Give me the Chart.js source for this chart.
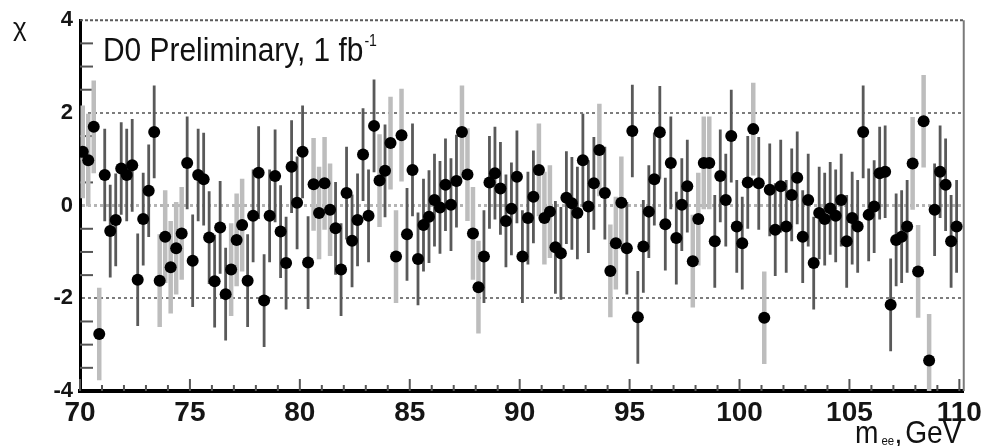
<!DOCTYPE html>
<html>
<head>
<meta charset="utf-8">
<script src="https://cdn.jsdelivr.net/npm/chart.js@4.4.1/dist/chart.umd.min.js"></script>
<style>
    html, body { margin: 0; padding: 0; background: #fff; }
</style>
</head>
<body>
<canvas id="chiChart" width="987" height="446"></canvas>
<script>
// bin centres (GeV), 0.25 GeV bins
const massBins = [
    70.125, 70.375, 70.625, 70.875, 71.125, 71.375, 71.625, 71.875, 72.125, 72.375, 72.625, 72.875,
    73.125, 73.375, 73.625, 73.875, 74.125, 74.375, 74.625, 74.875, 75.125, 75.375, 75.625, 75.875,
    76.125, 76.375, 76.625, 76.875, 77.125, 77.375, 77.625, 77.875, 78.125, 78.375, 78.625, 78.875,
    79.125, 79.375, 79.625, 79.875, 80.125, 80.375, 80.625, 80.875, 81.125, 81.375, 81.625, 81.875,
    82.125, 82.375, 82.625, 82.875, 83.125, 83.375, 83.625, 83.875, 84.125, 84.375, 84.625, 84.875,
    85.125, 85.375, 85.625, 85.875, 86.125, 86.375, 86.625, 86.875, 87.125, 87.375, 87.625, 87.875,
    88.125, 88.375, 88.625, 88.875, 89.125, 89.375, 89.625, 89.875, 90.125, 90.375, 90.625, 90.875,
    91.125, 91.375, 91.625, 91.875, 92.125, 92.375, 92.625, 92.875, 93.125, 93.375, 93.625, 93.875,
    94.125, 94.375, 94.625, 94.875, 95.125, 95.375, 95.625, 95.875, 96.125, 96.375, 96.625, 96.875,
    97.125, 97.375, 97.625, 97.875, 98.125, 98.375, 98.625, 98.875, 99.125, 99.375, 99.625, 99.875,
    100.125, 100.375, 100.625, 100.875, 101.125, 101.375, 101.625, 101.875, 102.125, 102.375, 102.625, 102.875,
    103.125, 103.375, 103.625, 103.875, 104.125, 104.375, 104.625, 104.875, 105.125, 105.375, 105.625, 105.875,
    106.125, 106.375, 106.625, 106.875, 107.125, 107.375, 107.625, 107.875, 108.125, 108.375, 108.625, 108.875,
    109.125, 109.375, 109.625, 109.875
];

const chiValues = [
    1.16, 0.98, 1.70, -2.77, 0.66, -0.55, -0.31, 0.80, 0.66, 0.87, -1.60, -0.29,
    0.32, 1.59, -1.62, -0.67, -1.33, -0.92, -0.60, 0.92, -1.19, 0.66, 0.57, -0.69,
    -1.63, -0.47, -1.91, -1.38, -0.74, -0.42, -1.62, -0.22, 0.71, -2.05, -0.22, 0.64,
    -0.56, -1.24, 0.84, 0.06, 1.16, -1.23, 0.46, -0.16, 0.48, -0.09, -0.49, -1.38,
    0.27, -0.76, -0.31, 1.10, -0.22, 1.72, 0.54, 0.75, 1.35, -1.10, 1.52, -0.62,
    0.77, -1.15, -0.42, -0.24, 0.12, -0.04, 0.45, 0.02, 0.53, 1.59, 0.67, -0.60,
    -1.76, -1.10, 0.50, 0.70, 0.37, -0.33, -0.07, 0.62, -1.10, -0.27, 0.19, 0.77,
    -0.27, -0.13, -0.90, -1.03, 0.17, 0.05, -0.16, 0.98, -0.02, 0.48, 1.20, 0.27,
    -1.41, -0.81, 0.06, -0.92, 1.61, -2.41, -0.88, -0.13, 0.57, 1.58, -0.40, 0.92,
    -0.70, 0.02, 0.42, -1.20, -0.29, 0.92, 0.92, -0.77, 0.64, 0.12, 1.50, -0.45,
    -0.81, 0.50, 1.65, 0.48, -2.42, 0.34, -0.52, 0.42, -0.45, 0.23, 0.60, -0.67,
    0.12, -1.24, -0.16, -0.29, -0.06, -0.22, 0.12, -0.77, -0.27, -0.45, 1.59, -0.20,
    -0.02, 0.70, 0.73, -2.14, -0.74, -0.67, -0.45, 0.91, -1.42, 1.82, -3.34, -0.09,
    0.73, 0.45, -0.77, -0.45
];

// error bar shade per bin, one group per GeV: d = dark, l = light grey
const barShade = 'llll dddd dddd ddll llld dddd dddl lldd dddd dddd ddll lldd dddd ddld llld dddd dddd dlll lddd dddd ' +
                 'dddl lldd dddd ddld llld dddd dddd dddl llld dddd ddld lddd dddd dddd dddd dddd dddd dddl llld dddd';
const chiError = 1.0;

const xMajorTicks = [70, 75, 80, 85, 90, 95, 100, 105, 110];
const xTickLabels = ['70', '75', '80', '85', '90', '95', '100', '105', '110'];
const xMinorTicks = [71, 72, 73, 74, 76, 77, 78, 79, 81, 82, 83, 84, 86, 87, 88, 89, 91, 92, 93, 94,
                     96, 97, 98, 99, 101, 102, 103, 104, 106, 107, 108, 109];
const yMajorTicks = [-4, -2, 0, 2, 4];
const yTickLabels = ['-4', '-2', '0', '2', '4'];
const yMinorTicks = [-3.5, -3, -2.5, -1.5, -1, -0.5, 0.5, 1, 1.5, 2.5, 3, 3.5];

const shades = barShade.replace(/ /g, '');
const FONT = '"Liberation Sans Narrow", "Liberation Sans", Arial, sans-serif';

const errorBarPlugin = {
    id: 'errorBars',
    beforeDatasetsDraw(chart) {
        const { ctx, chartArea: a, scales: { x, y } } = chart;
        ctx.save();
        ctx.beginPath();
        ctx.rect(a.left, a.top, a.right - a.left, a.bottom - a.top);
        ctx.clip();
        // light bars first, dark ones on top
        ['l', 'd'].forEach(s => {
            ctx.strokeStyle = s === 'l' ? '#bdbdbd' : '#595959';
            ctx.lineWidth = s === 'l' ? 4.5 : 2.8;
            massBins.forEach((m, i) => {
                if (shades[i] !== s) return;
                const px = x.getPixelForValue(m);
                ctx.beginPath();
                ctx.moveTo(px, y.getPixelForValue(chiValues[i] + chiError));
                ctx.lineTo(px, y.getPixelForValue(chiValues[i] - chiError));
                ctx.stroke();
            });
        });
        ctx.restore();
    }
};

const framePlugin = {
    id: 'frame',
    beforeDatasetsDraw(chart) {
        const { ctx, chartArea: a, scales: { x, y } } = chart;
        ctx.save();
        // top + right frame
        ctx.strokeStyle = '#5a5a5a';
        ctx.lineWidth = 2;
        ctx.setLineDash([3, 2]);
        ctx.beginPath(); ctx.moveTo(a.left, a.top); ctx.lineTo(a.right, a.top); ctx.stroke();
        ctx.setLineDash([]);
        ctx.strokeStyle = '#7a7a7a';
        ctx.beginPath(); ctx.moveTo(a.right, a.top); ctx.lineTo(a.right, a.bottom); ctx.stroke();

        // tick marks drawn inside the frame
        ctx.strokeStyle = '#555';
        ctx.lineWidth = 2;
        yMinorTicks.forEach(v => {
            const py = y.getPixelForValue(v);
            ctx.beginPath(); ctx.moveTo(a.left, py); ctx.lineTo(a.left + 13, py); ctx.stroke();
        });
        xMinorTicks.forEach(v => {
            const px = x.getPixelForValue(v);
            ctx.beginPath(); ctx.moveTo(px, a.bottom); ctx.lineTo(px, a.bottom - 6); ctx.stroke();
        });
        xMajorTicks.forEach(v => {
            const px = x.getPixelForValue(v);
            ctx.beginPath(); ctx.moveTo(px, a.bottom); ctx.lineTo(px, a.bottom - 12); ctx.stroke();
        });
        ctx.restore();
    },
    afterDraw(chart) {
        const { ctx } = chart;
        ctx.save();
        ctx.fillStyle = '#111';
        ctx.textBaseline = 'alphabetic';
        ctx.textAlign = 'left';

        // label inside the plot, squeezed to the narrow look of the original
        ctx.save();
        ctx.translate(103, 61);
        ctx.scale(0.88, 1);
        ctx.font = '34px ' + FONT;
        const txt = 'D0 Preliminary, 1 fb';
        ctx.fillText(txt, 0, 0);
        const w = ctx.measureText(txt).width;
        ctx.font = '16px ' + FONT;
        ctx.fillText('-1', w + 1, -15);
        ctx.restore();

        // axis titles
        ctx.font = '26px ' + FONT;
        ctx.fillText('χ', 13, 36);

        ctx.save();
        ctx.translate(855, 443);
        ctx.scale(0.88, 1);
        ctx.font = '32px ' + FONT;
        ctx.fillText('m', 0, 0);
        ctx.font = '13px ' + FONT;
        ctx.fillText('ee', 30, 2);
        ctx.font = '32px ' + FONT;
        ctx.fillText(',', 45, 0);
        ctx.fillText('GeV', 57, 0);
        ctx.restore();
        ctx.restore();
    }
};

new Chart(document.getElementById('chiChart').getContext('2d'), {
    type: 'scatter',
    data: {
        datasets: [{
            data: massBins.map((m, i) => ({ x: m, y: chiValues[i] })),
            backgroundColor: '#000',
            borderWidth: 0,
            pointRadius: 6,
            pointHoverRadius: 6
        }]
    },
    options: {
        responsive: false, animation: false,
        layout: { padding: { top: 18, right: 13, left: 0, bottom: 0 } },
        plugins: { legend: { display: false }, tooltip: { enabled: false } },
        scales: {
            x: {
                type: 'linear', min: 70, max: 110.2,
                afterBuildTicks: s => { s.ticks = xMajorTicks.map(v => ({ value: v })); },
                afterFit: s => { s.height = 55; },
                ticks: {
                    callback: (v, i) => xTickLabels[i],
                    color: '#151515', padding: 5, maxRotation: 0, autoSkip: false,
                    font: { family: FONT, size: 28, weight: 'bold' }
                },
                grid: { display: false, drawTicks: false },
                border: { color: '#000', width: 4 }
            },
            y: {
                min: -4, max: 4,
                afterBuildTicks: s => { s.ticks = yMajorTicks.map(v => ({ value: v })); },
                afterFit: s => { s.width = 80; },
                ticks: {
                    callback: (v, i) => yTickLabels[i],
                    color: '#151515', padding: 7,
                    font: { family: FONT, size: 22, weight: 'bold' }
                },
                grid: {
                    drawTicks: false,
                    color: c => (Math.abs(c.tick.value) === 4 ? 'rgba(0,0,0,0)' : (c.tick.value === 0 ? '#b4b4b4' : '#7c7c7c')),
                    lineWidth: c => (c.tick.value === 0 ? 3 : 2)
                },
                border: { color: '#000', width: 3, dash: [3, 3] }
            }
        }
    },
    plugins: [framePlugin, errorBarPlugin]
});
</script>
</body>
</html>
